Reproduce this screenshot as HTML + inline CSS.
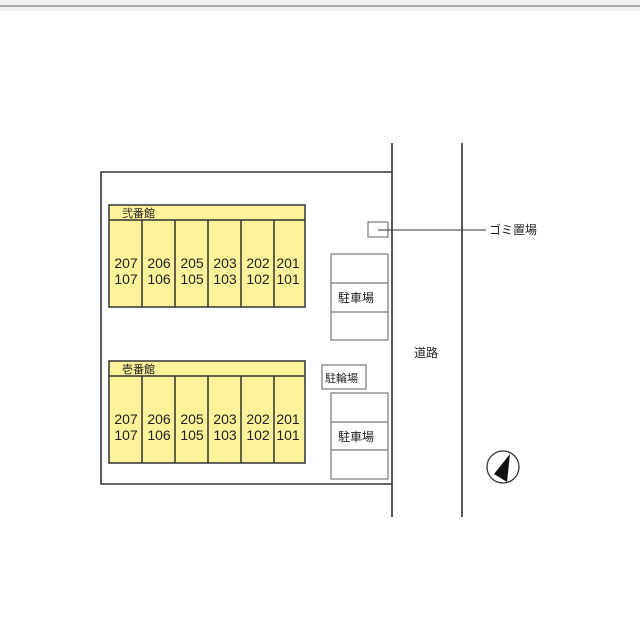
<!DOCTYPE html>
<html><head><meta charset="utf-8"><style>
body{margin:0;width:640px;height:630px;background:#fff;overflow:hidden}
svg{display:block}
text{font-family:"Liberation Sans","Noto Sans CJK JP",sans-serif;fill:#222}
</style></head><body>
<svg width="640" height="630" viewBox="0 0 640 630">
<rect x="0" y="0" width="640" height="11" fill="#efefef"/>
<line x1="0" y1="6" x2="640" y2="6" stroke="#888" stroke-width="1.2"/>
<g stroke="#333" stroke-width="1.6" fill="none">
<polyline points="392,172 101,172 101,484 392,484"/>
<line x1="392" y1="143" x2="392" y2="517"/>
<line x1="462" y1="143" x2="462" y2="517"/>
</g>
<g stroke="#333" stroke-width="1.5" fill="#fbf29a">
<rect x="109" y="205" width="196" height="102"/>
<line x1="109" y1="220" x2="305" y2="220"/>
<line x1="142" y1="220" x2="142" y2="307"/><line x1="175" y1="220" x2="175" y2="307"/><line x1="208" y1="220" x2="208" y2="307"/><line x1="241" y1="220" x2="241" y2="307"/><line x1="274" y1="220" x2="274" y2="307"/>
<rect x="109" y="361" width="196" height="102"/>
<line x1="109" y1="376" x2="305" y2="376"/>
<line x1="142" y1="376" x2="142" y2="463"/><line x1="175" y1="376" x2="175" y2="463"/><line x1="208" y1="376" x2="208" y2="463"/><line x1="241" y1="376" x2="241" y2="463"/><line x1="274" y1="376" x2="274" y2="463"/>
</g>
<g font-size="11"><text x="122" y="217">弐番館</text><text x="122" y="373">壱番館</text></g>
<g font-size="14" text-anchor="middle">
<text x="126" y="268">207</text><text x="126" y="284">107</text>
<text x="159" y="268">206</text><text x="159" y="284">106</text>
<text x="192" y="268">205</text><text x="192" y="284">105</text>
<text x="225" y="268">203</text><text x="225" y="284">103</text>
<text x="258" y="268">202</text><text x="258" y="284">102</text>
<text x="288" y="268">201</text><text x="288" y="284">101</text>
<text x="126" y="424">207</text><text x="126" y="440">107</text>
<text x="159" y="424">206</text><text x="159" y="440">106</text>
<text x="192" y="424">205</text><text x="192" y="440">105</text>
<text x="225" y="424">203</text><text x="225" y="440">103</text>
<text x="258" y="424">202</text><text x="258" y="440">102</text>
<text x="288" y="424">201</text><text x="288" y="440">101</text>
</g>
<g stroke="#777" stroke-width="1.2" fill="#fff">
<rect x="368" y="222" width="20" height="15"/>
<rect x="331" y="254" width="57" height="86"/>
<line x1="331" y1="283" x2="388" y2="283"/><line x1="331" y1="312" x2="388" y2="312"/>
<rect x="331" y="393" width="57" height="86"/>
<line x1="331" y1="422" x2="388" y2="422"/><line x1="331" y1="450" x2="388" y2="450"/>
<rect x="322" y="365" width="44" height="24"/>
</g>
<line x1="378" y1="230" x2="486" y2="230" stroke="#333" stroke-width="1"/>
<g font-size="12">
<text x="489" y="234">ゴミ置場</text>
<text x="338" y="302">駐車場</text>
<text x="338" y="441">駐車場</text>
<text x="325" y="382" font-size="11">駐輪場</text>
<text x="414" y="357">道路</text>
</g>
<circle cx="503" cy="467" r="16" fill="#fff" stroke="#333" stroke-width="1.3"/>
<polygon points="510,454 507,482 494,474" fill="#111"/>
</svg>
</body></html>
